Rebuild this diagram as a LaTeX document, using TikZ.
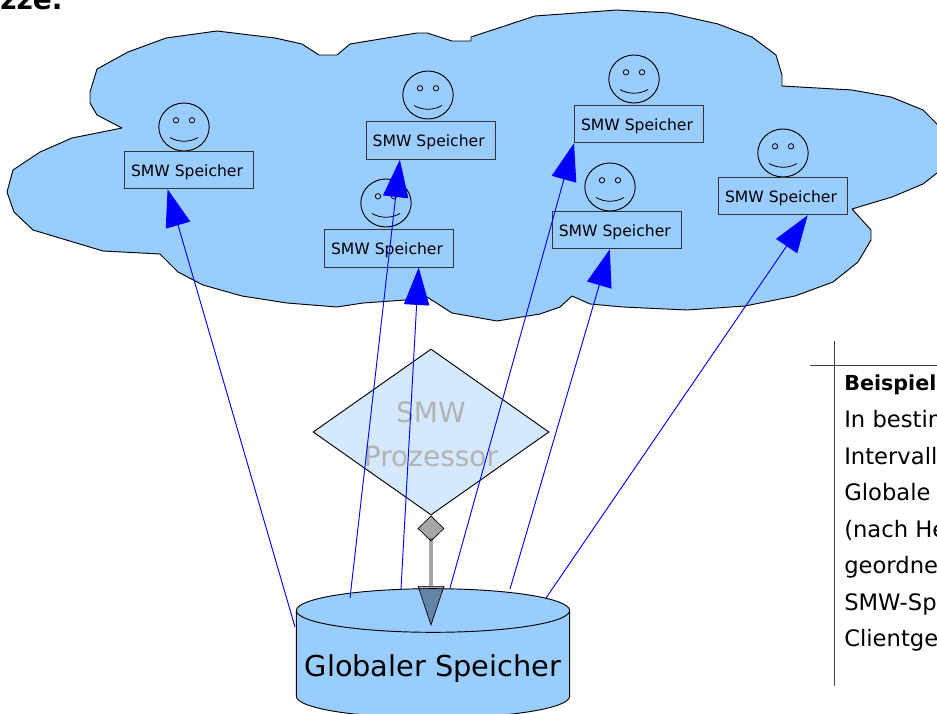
\documentclass[tikz,border=0pt]{standalone}
\usepackage{fontspec}
\setmainfont{DejaVu Sans}
\usetikzlibrary{shapes.geometric,arrows.meta}

\begin{document}
\begin{tikzpicture}[x=0.75pt,y=-0.75pt,
        wolke/.style = {draw, fill=wolkeblau, line width=0.7pt, line join=round},
        speicher/.style = {draw=black!80, line width=0.8pt, minimum width=96.7pt, minimum height=28.1pt, inner sep=0pt, text height=10pt, text depth=0.5pt, font=\fontsize{11.7}{14}\selectfont, execute at begin node={\kern-3pt}},
        gesicht/.style = {draw, ellipse, line width=0.7pt, minimum width=37.8pt, minimum height=36pt, inner sep=0pt,
            path picture={
                \draw[line width=0.6pt] ([shift={(-8,-6.7)}]path picture bounding box.center) circle (2.7);
                \draw[line width=0.6pt] ([shift={(8,-6.7)}]path picture bounding box.center) circle (2.7);
                \draw[line width=0.6pt] ([shift={(-14,10.5)}]path picture bounding box.center) .. controls ([shift={(-5,15.5)}]path picture bounding box.center) and ([shift={(5,15.5)}]path picture bounding box.center) .. ([shift={(14,10.5)}]path picture bounding box.center);
            }},
        pfeil/.style = {draw=blue, line width=0.7pt, -{Triangle[length=28pt,width=19pt,color=blue]}},
        prozessor/.style = {draw, diamond, shape aspect=1.42, fill=prozblau, text=textgrau, line width=0.7pt, minimum width=177pt, minimum height=124.5pt, inner sep=0pt, align=center, font=\fontsize{21}{33.5}\selectfont},
        platte/.style = {draw, cylinder, shape border rotate=90, shape aspect=0.17, fill=wolkeblau, line width=0.7pt, minimum width=205pt, minimum height=97pt, inner sep=0pt, font=\fontsize{21.6}{26}\selectfont},
        zugriff/.style = {draw=verbgrau, line width=3pt, fill opacity=0.35,
            {Diamond[length=19.5pt,width=20pt,color=black,fill=black,line width=0.5pt]}-{Triangle[length=30pt,width=20pt,color=black,fill=black,line width=0.5pt]}},
        tabelle/.style = {draw=black!75, line width=0.7pt}]
        \definecolor{wolkeblau}{HTML}{99CCFF}
        \definecolor{prozblau}{HTML}{D4E8FF}
        \definecolor{textgrau}{HTML}{B3B3B3}
        \definecolor{verbgrau}{HTML}{A6A6A6}

        \useasboundingbox (0,0) rectangle (937,713);
        \clip (0,0) rectangle (937,713);

        \node[anchor=base west, inner sep=0pt, font=\fontsize{21}{24}\bfseries\selectfont] (titel) at (0,10) {zze.};

        % cloud
        \draw[wolke] (97,69) -- (128,52) -- (166,38) -- (217,31) -- (275,38) -- (302,44) -- (319,55) -- (337,55)
            -- (350,44) -- (417,33) -- (427,33) -- (452,41) -- (471,41) -- (471,37) -- (535,16) -- (617,10)
            -- (669,13) -- (718,24) -- (752,37) -- (776,55) -- (782,75) -- (782,86) -- (852,90) -- (891,97)
            -- (923,110) -- (937,124) -- (945,140) -- (945,165) -- (937,173) -- (923,184) -- (892,197) -- (852,209)
            -- (871,230) -- (871,240) -- (858,262) -- (833,282) -- (795,296) -- (745,306) -- (687,310) -- (623,307)
            -- (590,304) -- (572,296) -- (560,307) -- (540,314) -- (497,321) -- (452,313) -- (427,297) -- (405,300)
            -- (363,303) -- (337,307) -- (287,303) -- (242,296) -- (203,285) -- (178,272) -- (160,254) -- (103,251)
            -- (33,230) -- (14,212) -- (7,192) -- (13,170) -- (40,152) -- (72,138) -- (122,128) -- (97,115)
            -- (90,103) -- (90,92) -- cycle;

        \node[gesicht] (face1) at (184,127) {};
        \node[gesicht] (face2) at (428,95) {};
        \node[gesicht] (face3) at (386,203) {};
        \node[gesicht] (face4) at (634,79) {};
        \node[gesicht] (face5) at (610,187) {};
        \node[gesicht] (face6) at (783,153) {};

        \node[speicher] (box1) at (189,170) {SMW Speicher};
        \node[speicher] (box2) at (430.7,140.5) {SMW Speicher};
        \node[speicher] (box3) at (389,248.3) {SMW Speicher};
        \node[speicher] (box4) at (639,124) {SMW Speicher};
        \node[speicher] (box5) at (616.8,230) {SMW Speicher};
        \node[speicher] (box6) at (783,196) {SMW Speicher};

        \node[prozessor] (proz) at (431,432) {\rule{0pt}{19pt}SMW\\Prozessor};
        \node[platte] (global) at (433,664.5) {\raisebox{-9pt}[0pt][0pt]{Globaler Speicher}};

        \coordinate (start1) at (295,627);
        \coordinate (start2) at (350,598);
        \coordinate (start3) at (401,589);
        \coordinate (start4) at (450,588);
        \coordinate (start5) at (510,589);
        \coordinate (start6) at (546,598);
        \coordinate (eingang) at (431,626);

        \draw[pfeil] (start1) -- (box1.222);
        \draw[pfeil] (start2) -- (box2.212);
        \draw[pfeil] (start3) -- (box3.327);
        \draw[pfeil] (start4) -- (box4.south west);
        \draw[pfeil] (start5) -- (box5.250);
        \draw[pfeil] (start6) -- (box6.322);

        \draw[zugriff] (proz.south) -- (eingang);

        % table at the right
        \coordinate (vo) at (834,341);
        \coordinate (vu) at (834,686);
        \coordinate (hl) at (810,365);
        \coordinate (hr) at (937,365);
        \draw[tabelle] (vo) -- (vu);
        \draw[tabelle] (hl) -- (hr);
        \node[anchor=north west, inner sep=0pt, align=left, font=\fontsize{17}{27.4}\selectfont] (beispiel) at (844,375)
            {\textbf{\fontsize{15.5}{27.4}\selectfont Beispiel}\\In bestim\\Intervall\\Globale\\(nach He\\geordne\\SMW-Sp\\Clientge};

\end{tikzpicture}
\end{document}
